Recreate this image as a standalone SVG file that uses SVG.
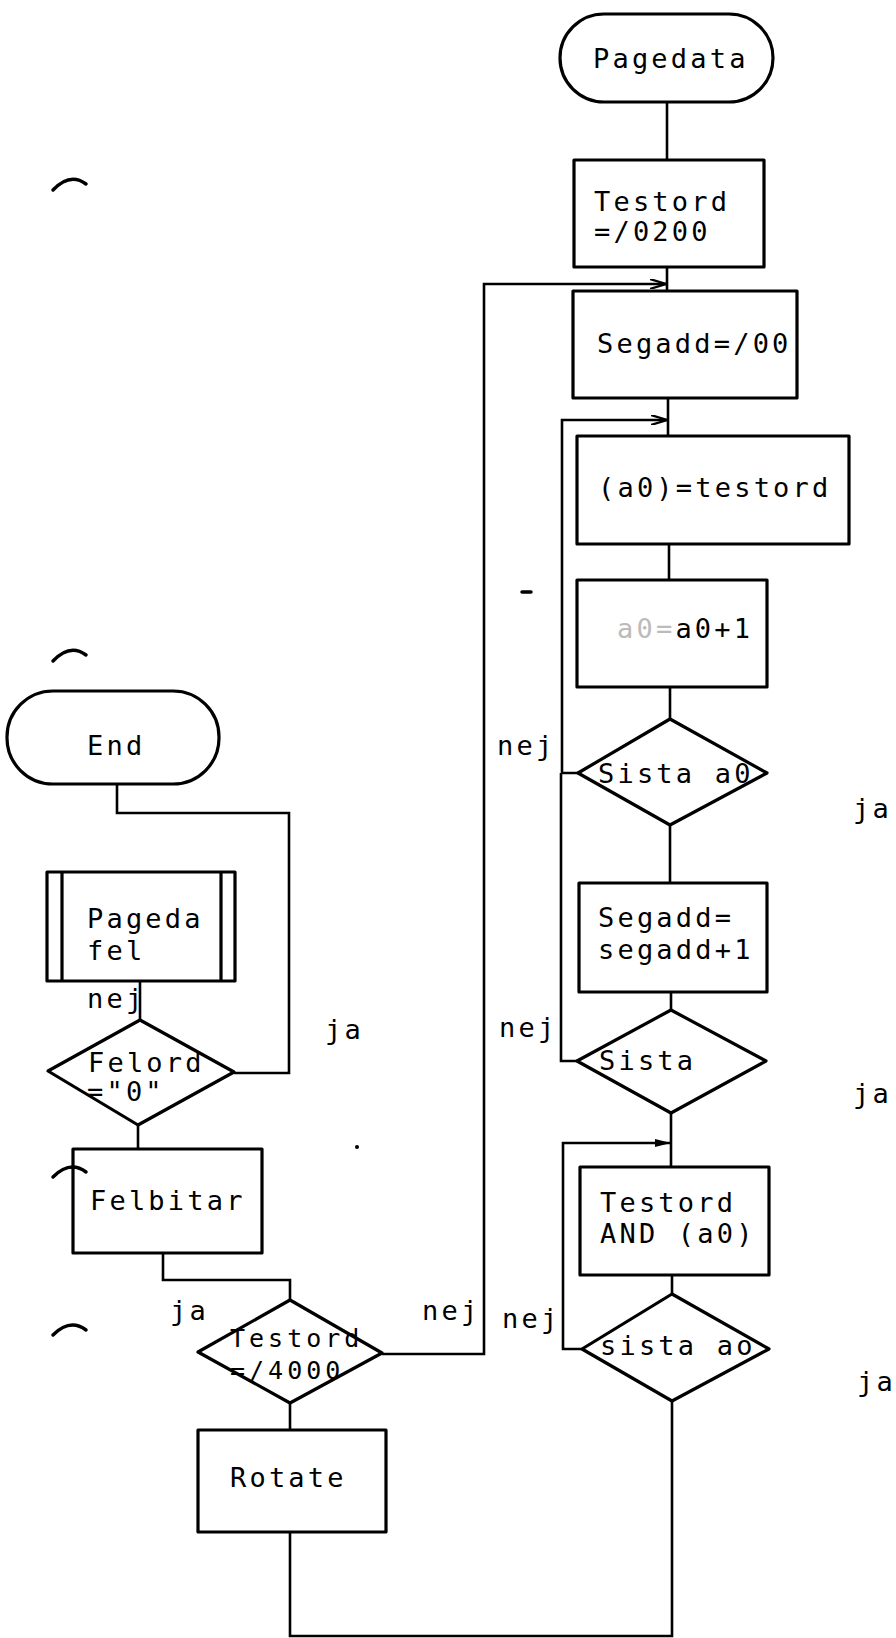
<svg xmlns="http://www.w3.org/2000/svg" width="896" height="1638" viewBox="0 0 896 1638">
  <style>
    .shape { fill: none; stroke: #000; stroke-width: 3.2; stroke-linejoin: round; }
    .wire { fill: none; stroke: #000; stroke-width: 2.6; stroke-linejoin: miter; }
    .txt { font-family: "DejaVu Sans Mono", "Liberation Mono", monospace; font-size: 27px; letter-spacing: 3.2px; fill: #000; }
    .small { font-size: 25px; letter-spacing: 4px; }
    .faint { fill: #bbb; }
    .mark { fill: none; stroke: #000; stroke-width: 3.5; stroke-linecap: round; }
  </style>
  <defs>
    <marker id="chev" viewBox="0 0 16 10" refX="16" refY="5" markerWidth="16" markerHeight="10" markerUnits="userSpaceOnUse" orient="auto">
      <path d="M0,0 L16,5 L0,10" fill="none" stroke="#000" stroke-width="2.2"/>
    </marker>
    <marker id="solid" viewBox="0 0 16 10" refX="16" refY="5" markerWidth="16" markerHeight="10" markerUnits="userSpaceOnUse" orient="auto">
      <path d="M0,1 L16,5 L0,9 Z" fill="#000"/>
    </marker>
  </defs>
  <rect width="896" height="1638" fill="#fff"/>

  <!-- connectors -->
  <g id="connectors">
    <path class="wire" d="M667,102 V160"/>
    <path class="wire" d="M667,267 V291"/>
    <path class="wire" d="M382,1354 H484 V284 H666" marker-end="url(#chev)"/>
    <path class="wire" d="M668,398 V436"/>
    <path class="wire" d="M578,773 H562 V420 H667" marker-end="url(#chev)"/>
    <path class="wire" d="M669,544 V580"/>
    <path class="wire" d="M670,687 V719"/>
    <path class="wire" d="M670,825 V883"/>
    <path class="wire" d="M671,992 V1010"/>
    <path class="wire" d="M577,1061 H561 V773"/>
    <path class="wire" d="M671,1113 V1167"/>
    <path class="wire" d="M582,1349 H563 V1143 H671" marker-end="url(#solid)"/>
    <path class="wire" d="M672,1275 V1294"/>
    <path class="wire" d="M672,1401 V1636 H290 V1532"/>
    <path class="wire" d="M117,784 V813 H289 V1073 H234"/>
    <path class="wire" d="M140,981 V1020"/>
    <path class="wire" d="M138,1125 V1149"/>
    <path class="wire" d="M163,1253 V1280 H290 V1300"/>
    <path class="wire" d="M290,1403 V1430"/>
  </g>

  <!-- branch labels -->
  <g id="labels" class="txt">
    <text x="497" y="755">nej</text>
    <text x="853" y="818">ja</text>
    <text x="499" y="1037">nej</text>
    <text x="853" y="1103">ja</text>
    <text x="502" y="1328">nej</text>
    <text x="857" y="1391">ja</text>
    <text x="87" y="1008">nej</text>
    <text x="325" y="1039">ja</text>
    <text x="170" y="1320">ja</text>
    <text x="422" y="1320">nej</text>
  </g>

  <g id="pagedata">
    <rect class="shape" x="560" y="14" width="213" height="88" rx="44"/>
    <text class="txt" x="593" y="68">Pagedata</text>
  </g>
  <g id="testord-init">
    <rect class="shape" x="574" y="160" width="190" height="107"/>
    <text class="txt" x="594" y="211">Testord</text>
    <text class="txt" x="594" y="241">=/0200</text>
  </g>
  <g id="segadd-init">
    <rect class="shape" x="573" y="291" width="224" height="107"/>
    <text class="txt" x="597" y="353">Segadd=/00</text>
  </g>
  <g id="store">
    <rect class="shape" x="577" y="436" width="272" height="108"/>
    <text class="txt" x="598" y="497">(a0)=testord</text>
  </g>
  <g id="inc-a0">
    <rect class="shape" x="577" y="580" width="190" height="107"/>
    <text class="txt" x="617" y="638"><tspan class="faint">a0=</tspan>a0+1</text>
  </g>
  <g id="last-a0">
    <polygon class="shape" points="670,719 767,773 670,825 578,773"/>
    <text class="txt" x="598" y="783">Sista a0</text>
  </g>
  <g id="inc-segadd">
    <rect class="shape" x="579" y="883" width="188" height="109"/>
    <text class="txt" x="598" y="927">Segadd=</text>
    <text class="txt" x="598" y="959">segadd+1</text>
  </g>
  <g id="last-seg">
    <polygon class="shape" points="671,1010 766,1061 671,1113 577,1061"/>
    <text class="txt" x="599" y="1070">Sista</text>
  </g>
  <g id="test-and">
    <rect class="shape" x="580" y="1167" width="189" height="108"/>
    <text class="txt" x="600" y="1212">Testord</text>
    <text class="txt" x="600" y="1243">AND (a0)</text>
  </g>
  <g id="last-ao">
    <polygon class="shape" points="672,1294 769,1349 672,1401 582,1349"/>
    <text class="txt" x="600" y="1355">sista ao</text>
  </g>

  <g id="end">
    <rect class="shape" x="7" y="691" width="212" height="93" rx="46"/>
    <text class="txt" x="87" y="755">End</text>
  </g>
  <g id="pagedafel">
    <rect class="shape" x="47" y="872" width="188" height="109"/>
    <path class="shape" d="M62,872 V981 M221,872 V981"/>
    <text class="txt" x="87" y="928">Pageda</text>
    <text class="txt" x="87" y="960">fel</text>
  </g>
  <g id="felord">
    <polygon class="shape" points="140,1020 234,1072 138,1125 48,1071"/>
    <text class="txt" x="88" y="1072">Felord</text>
    <text class="txt" x="87" y="1101">="0"</text>
  </g>
  <g id="felbitar">
    <rect class="shape" x="73" y="1149" width="189" height="104"/>
    <text class="txt" x="90" y="1210">Felbitar</text>
  </g>
  <g id="testord-4000">
    <polygon class="shape" points="290,1300 382,1353 290,1403 198,1352"/>
    <text class="txt small" x="230" y="1347">Testord</text>
    <text class="txt small" x="230" y="1379">=/4000</text>
  </g>
  <g id="rotate">
    <rect class="shape" x="198" y="1430" width="188" height="102"/>
    <text class="txt" x="230" y="1487">Rotate</text>
  </g>

  <!-- binder hole marks and stray specks on the sheet -->
  <g id="marks">
    <path class="mark" d="M53,190 Q70,172 86,184"/>
    <path class="mark" d="M53,661 Q70,643 86,655"/>
    <path class="mark" d="M53,1177 Q70,1160 86,1172"/>
    <path class="mark" d="M53,1335 Q70,1318 86,1330"/>
    <path class="mark" d="M522,592 H531"/>
    <circle cx="357" cy="1147" r="2" fill="#000"/>
  </g>
</svg>
